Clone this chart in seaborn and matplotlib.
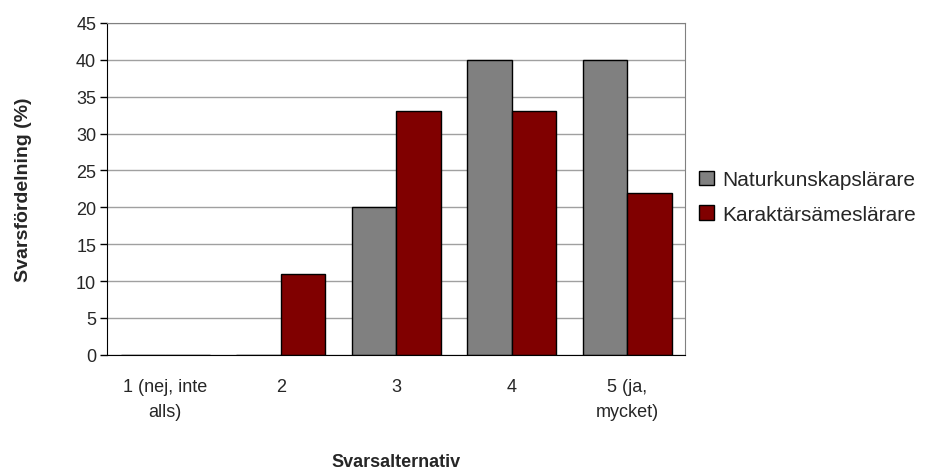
import numpy as np
import pandas as pd
import matplotlib
matplotlib.use("Agg")
import matplotlib.pyplot as plt
import seaborn as sns

categories = ["1 (nej, inte\nalls)", "2", "3", "4", "5 (ja,\nmycket)"]
natur = [0, 0, 20, 40, 40]
karaktar = [0, 11, 33, 33, 22]
series_names = ["Naturkunskapslärare", "Karaktärsämeslärare"]
yticks = list(range(0, 50, 5))

df = pd.DataFrame({
    "kategori": categories * 2,
    "varde": natur + karaktar,
    "grupp": [series_names[0]] * 5 + [series_names[1]] * 5,
})

sns.set_style("white")
plt.rcParams["font.family"] = ["Liberation Sans", "DejaVu Sans"]

fig = plt.figure(figsize=(9.5, 4.77), dpi=100)
ax = fig.add_axes([0.113, 0.254, 0.608, 0.696])

sns.barplot(data=df, x="kategori", y="varde", hue="grupp", order=categories,
            hue_order=series_names, palette=["#808080", "#800000"], saturation=1,
            width=0.77, edgecolor="black", linewidth=1, ax=ax, legend=True)

ax.set_ylim(0, 45)
ax.set_yticks(yticks)
ax.yaxis.grid(True, color="#a0a0a0", linewidth=1)
ax.set_axisbelow(True)
ax.tick_params(axis="y", which="major", left=True, length=5, width=1, color="black",
               labelsize=13, pad=3)
ax.tick_params(axis="x", pad=17, length=0)
ax.set_xticks(range(len(categories)))
ax.set_xticklabels(categories, fontsize=13, linespacing=1.55)
for s in ["top", "right"]:
    ax.spines[s].set_color("#808080")
for s in ["left", "bottom"]:
    ax.spines[s].set_color("black")

ax.set_xlabel("Svarsalternativ", fontsize=13, fontweight="bold", labelpad=24)
ax.set_ylabel("Svarsfördelning (%)", fontsize=14, fontweight="bold", labelpad=32)

ax.legend_.remove()
handles, labels = ax.get_legend_handles_labels()
fig.legend(handles[:2], labels[:2], loc="center left", bbox_to_anchor=(0.716, 0.585),
           frameon=False, fontsize=15, handlelength=0.7, handleheight=0.7,
           handletextpad=0.4, labelspacing=0.75)

fig.savefig("out.png", dpi=100)
